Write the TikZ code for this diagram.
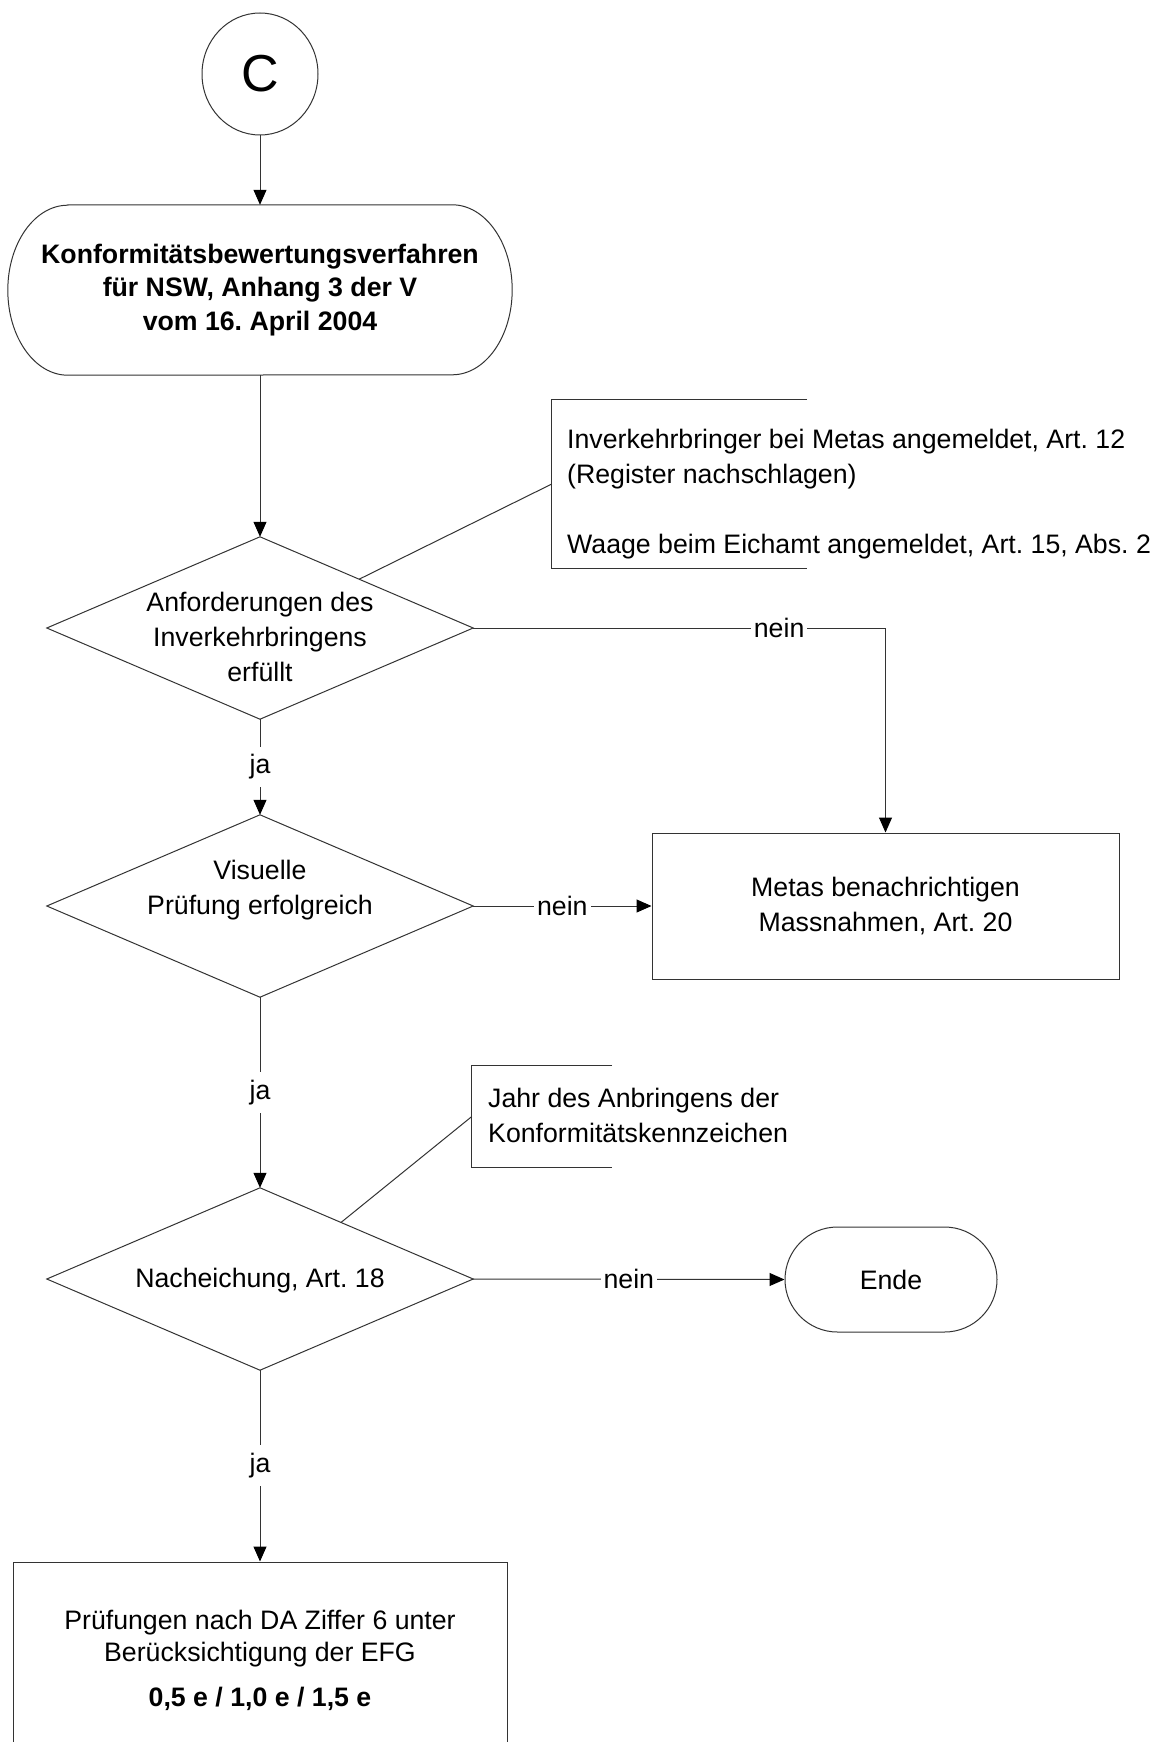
\documentclass[tikz,border=0pt]{standalone}
\usepackage{fontspec}
\setmainfont{Liberation Sans}
\usetikzlibrary{arrows.meta,shapes.geometric,shapes.misc,calc}
\newcommand\myfs{\fontsize{26.7pt}{35pt}\selectfont}
\frenchspacing
\begin{document}
\frenchspacing
\begin{tikzpicture}[x=1pt,y=-1pt,
  line/.style={draw=black!80,line width=1pt},
  arr/.style={line,-{Triangle[length=15pt,width=13pt,color=black,fill=black]}},
  lbl/.style={fill=white,inner xsep=3pt,inner ysep=8pt,font=\myfs},
  box/.style={rectangle,line,font=\myfs,align=center,inner sep=0pt},
  ghost/.style={rectangle,draw=none,inner sep=0pt},
  txt/.style={font=\myfs,align=center,inner sep=0pt}]
\useasboundingbox (0,0) rectangle (1157,1742);
\clip (0,0) rectangle (1157,1742);
\fill[white] (0,0) rectangle (1157,1742);

% start connector
\node[ellipse,line,minimum width=116pt,minimum height=122pt,inner sep=0pt,
      font=\fontsize{52pt}{60pt}\selectfont] (C) at (260,74) {C};

% terminal
\node[ghost,minimum width=504pt,minimum height=170pt,align=center,
      font=\fontsize{26.7pt}{33.5pt}\selectfont\bfseries] (T) at (260,290)
  {Konformitätsbewertungsverfahren\\für NSW, Anhang 3 der V\\vom 16. April 2004};
\draw[line] ([xshift=60pt]T.north west) -- ([xshift=-60pt]T.north east)
  arc[start angle=90,end angle=-90,x radius=60pt,y radius=85pt]
  -- ([xshift=60pt]T.south west)
  arc[start angle=270,end angle=90,x radius=60pt,y radius=85pt] -- cycle;

% decisions
\node[ghost,minimum width=426pt,minimum height=182pt] (D1) at (260,628) {};
\draw[line] (D1.north) -- (D1.east) -- (D1.south) -- (D1.west) -- cycle;
\node[txt] (D1t) at (260,637) {Anforderungen des\\Inverkehrbringens\\erfüllt};

\node[ghost,minimum width=426pt,minimum height=182pt] (D2) at (260,906) {};
\draw[line] (D2.north) -- (D2.east) -- (D2.south) -- (D2.west) -- cycle;
\node[txt] (D2t) at (260,890) {Visuelle\\Prüfung erfolgreich};

\node[ghost,minimum width=426pt,minimum height=182pt] (D3) at (260,1279) {};
\draw[line] (D3.north) -- (D3.east) -- (D3.south) -- (D3.west) -- cycle;
\node[txt] (D3t) at (260,1281) {Nacheichung, Art. 18};

% process boxes
\node[box,minimum width=467pt,minimum height=146pt] (M) at (885.5,906)
  {Metas benachrichtigen\\Massnahmen, Art. 20};
\node[rounded rectangle,line,minimum width=212pt,minimum height=105pt,
      inner sep=0pt,font=\myfs] (E) at (891,1279.5) {Ende};
\node[rectangle,line,minimum width=494pt,minimum height=240pt,inner sep=0pt] (P) at (260,1682) {};
\node[txt,font=\fontsize{26.7pt}{32pt}\selectfont] (Pt) at (260,1660)
  {Prüfungen nach DA Ziffer 6 unter\\Berücksichtigung der EFG\\[13pt]\textbf{0,5 e / 1,0 e / 1,5 e}};

% annotations
\node[ghost,minimum width=255pt,minimum height=168pt] (A1) at (679.5,484) {};
\draw[line] (A1.north east) -- (A1.north west) -- (A1.south west) -- (A1.south east);
\node[txt,align=left,anchor=west] (A1t) at (567,494)
  {Inverkehrbringer bei Metas angemeldet, Art. 12\\(Register nachschlagen)\\[35pt]Waage beim Eichamt angemeldet, Art. 15, Abs. 2};
\draw[line] (A1.west) -- ($(D1.north)!0.465!(D1.east)$);

\node[ghost,minimum width=140pt,minimum height=101pt] (A2) at (542,1116.5) {};
\draw[line] (A2.north east) -- (A2.north west) -- (A2.south west) -- (A2.south east);
\node[txt,align=left,anchor=west] (A2t) at (488,1115)
  {Jahr des Anbringens der\\Konformitätskennzeichen};
\draw[line] (A2.west) -- ($(D3.north)!0.38!(D3.east)$);

% connectors
\draw[arr] (C.south) -- (T.north);
\draw[arr] (T.south) -- (D1.north);
\draw[arr] (D1.east) -| node[lbl,pos=0.371]{nein} (M.north);
\draw[arr] (D1.south) -- node[lbl]{ja} (D2.north);
\draw[arr] (D2.east) -- node[lbl]{nein} (M.west);
\draw[arr] (D2.south) -- node[lbl]{ja} (D3.north);
\draw[arr] (D3.east) -- node[lbl]{nein} (E.west);
\draw[arr] (D3.south) -- node[lbl]{ja} (P.north);
\end{tikzpicture}
\end{document}
